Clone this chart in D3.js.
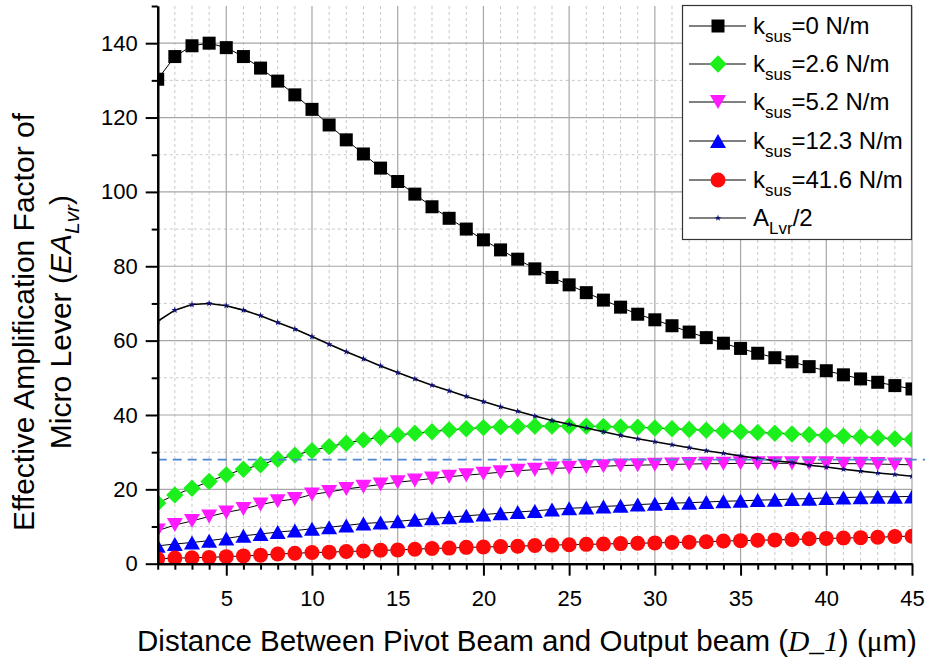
<!DOCTYPE html>
<html>
<head>
<meta charset="utf-8">
<script src="https://cdnjs.cloudflare.com/ajax/libs/d3/7.8.5/d3.min.js"></script>
<style>
  body { margin: 0; background: #fff; }
  svg { display: block; font-family: Arial, "Liberation Sans", sans-serif; }
</style>
</head>
<body>
<svg id="chart" width="929" height="662"></svg>
<script>
// distance between pivot beam and output beam (um)
var distance = [1,2,3,4,5,6,7,8,9,10,11,12,13,14,15,16,17,18,19,20,21,22,23,24,25,26,27,28,29,30,31,32,33,34,35,36,37,38,39,40,41,42,43,44,45];

// effective amplification factor, one array per k_sus
var ksus0 = [130.3,136.4,139.3,140.0,138.8,136.4,133.3,129.8,126.1,122.2,118.0,114.0,110.2,106.4,102.8,99.4,96.0,92.9,90.0,87.1,84.4,81.9,79.3,77.0,75.0,72.9,70.9,69.0,67.1,65.6,64.0,62.3,60.8,59.3,57.9,56.6,55.4,54.3,53.0,51.9,50.8,49.7,48.8,47.9,47.0];
var ksus26 = [16.3,18.5,20.3,22.1,23.9,25.4,26.6,28.1,29.2,30.4,31.5,32.4,33.3,34.0,34.6,35.1,35.5,36.0,36.3,36.6,36.8,36.9,37.0,37.0,37.0,37.0,36.9,36.8,36.7,36.5,36.3,36.1,35.9,35.7,35.5,35.3,35.1,34.9,34.7,34.5,34.3,34.1,33.9,33.6,33.4];
var ksus52 = [8.9,10.4,11.5,12.7,13.8,14.7,15.9,16.8,17.4,18.6,19.3,20.1,20.7,21.3,21.9,22.4,22.9,23.4,23.8,24.2,24.6,25.0,25.3,25.6,25.8,26.0,26.2,26.4,26.5,26.6,26.7,26.8,26.9,26.9,27.0,27.0,27.0,27.0,27.0,27.0,26.9,26.9,26.8,26.7,26.6];
var ksus123 = [4.8,5.3,5.7,6.2,6.8,7.5,8.0,8.5,8.9,9.4,9.8,10.3,10.8,11.1,11.4,11.8,12.2,12.5,12.9,13.2,13.6,13.9,14.2,14.6,14.9,15.1,15.4,15.6,15.9,16.1,16.3,16.4,16.6,16.8,16.9,17.1,17.2,17.4,17.5,17.7,17.8,17.9,18.0,18.0,18.1];
var ksus416 = [1.3,1.5,1.6,1.7,1.9,2.1,2.3,2.6,2.8,3.0,3.1,3.3,3.4,3.6,3.7,3.9,4.1,4.2,4.4,4.5,4.6,4.7,4.9,5.0,5.1,5.2,5.3,5.4,5.5,5.6,5.7,5.8,5.9,6.1,6.2,6.3,6.4,6.5,6.7,6.8,6.9,7.0,7.1,7.3,7.4];
var aLvrHalf = [65.2,68.2,69.7,70.0,69.4,68.2,66.7,64.9,63.1,61.1,59.0,57.0,55.1,53.2,51.4,49.7,48.0,46.5,45.0,43.6,42.2,41.0,39.7,38.5,37.5,36.5,35.5,34.5,33.6,32.8,32.0,31.2,30.4,29.7,29.0,28.3,27.7,27.2,26.5,26.0,25.4,24.9,24.4,24.0,23.5];
var refLevel = 28;

var xTicks = [5,10,15,20,25,30,35,40,45];
var xMinor = [1,2,3,4,6,7,8,9,11,12,13,14,16,17,18,19,21,22,23,24,26,27,28,29,31,32,33,34,36,37,38,39,41,42,43,44];
var yTicks = [0,20,40,60,80,100,120,140];
var yMinor = [10,30,50,70,90,110,130,150];

var svg = d3.select("#chart");
var L = 157.7, R = 912, T = 6, B = 563.7;

var x = d3.scaleLinear().domain([1, 45]).range([L, R]);
var y = d3.scaleLinear().domain([0, 150]).range([B, T]);

// grid
var grid = svg.append("g");
grid.selectAll(".vminor").data(xMinor.filter(function(d){ return d > 1; })).enter().append("line")
    .attr("x1", function(d){ return x(d); }).attr("x2", function(d){ return x(d); })
    .attr("y1", T).attr("y2", B)
    .attr("stroke", "#c8c8c8").attr("stroke-dasharray", "3,3");
grid.selectAll(".hminor").data(yMinor.filter(function(d){ return d < 150; })).enter().append("line")
    .attr("x1", L).attr("x2", R)
    .attr("y1", function(d){ return y(d); }).attr("y2", function(d){ return y(d); })
    .attr("stroke", "#c8c8c8").attr("stroke-dasharray", "3,3");
grid.selectAll(".vmajor").data(xTicks).enter().append("line")
    .attr("x1", function(d){ return x(d); }).attr("x2", function(d){ return x(d); })
    .attr("y1", T).attr("y2", B)
    .attr("stroke", "#a6a6a6").attr("stroke-width", 1.2);
grid.selectAll(".hmajor").data(yTicks.filter(function(d){ return d > 0; })).enter().append("line")
    .attr("x1", L).attr("x2", R)
    .attr("y1", function(d){ return y(d); }).attr("y2", function(d){ return y(d); })
    .attr("stroke", "#a6a6a6").attr("stroke-width", 1.2);

// markers
function square(g, c) { g.append("rect").attr("x", -6.5).attr("y", -6.5).attr("width", 13).attr("height", 13).attr("fill", c); }
function diamond(g, c) { g.append("path").attr("d", "M0,-8.7L8.7,0L0,8.7L-8.7,0Z").attr("fill", c); }
function triDown(g, c) { g.append("path").attr("d", "M-8,-7L8,-7L0,7Z").attr("fill", c); }
function triUp(g, c) { g.append("path").attr("d", "M0,-7L8,7L-8,7Z").attr("fill", c); }
function dot(g, c) { g.append("circle").attr("r", 7.5).attr("fill", c); }
function star(g, c) { g.append("path").attr("d", d3.symbol(d3.symbolStar, 14)()).attr("fill", c); }

var series = [
  { name: "0 N/m", values: ksus0, color: "#000000", mark: square },
  { name: "2.6 N/m", values: ksus26, color: "#1cf01c", mark: diamond },
  { name: "5.2 N/m", values: ksus52, color: "#ff1aff", mark: triDown },
  { name: "12.3 N/m", values: ksus123, color: "#0000ff", mark: triUp },
  { name: "41.6 N/m", values: ksus416, color: "#ff0a0a", mark: dot },
  { name: "half", values: aLvrHalf, color: "#10107a", mark: star }
];

svg.append("clipPath").attr("id", "plotClip").append("rect")
    .attr("x", L).attr("y", T).attr("width", R - L).attr("height", B - T);

var plot = svg.append("g").attr("clip-path", "url(#plotClip)");
var line = d3.line()
    .x(function(d){ return x(d[0]); })
    .y(function(d){ return y(d[1]); });

series.forEach(function(s) {
  var pts = distance.map(function(d, i){ return [d, s.values[i]]; });
  var g = plot.append("g");
  g.append("path").attr("d", line(pts)).attr("fill", "none")
      .attr("stroke", "#000").attr("stroke-width", s.name == "half" ? 1.6 : 1);
  pts.forEach(function(p) {
    var m = g.append("g").attr("transform", "translate(" + x(p[0]) + "," + y(p[1]) + ")");
    s.mark(m, s.color);
  });
});

// reference level
svg.append("line")
    .attr("x1", L).attr("x2", 925)
    .attr("y1", y(refLevel)).attr("y2", y(refLevel))
    .attr("stroke", "#4f86d2").attr("stroke-width", 1.6).attr("stroke-dasharray", "9,6");

// axes
svg.append("g").attr("transform", "translate(0," + B + ")")
    .call(d3.axisBottom(x).tickValues(xTicks).tickSize(12).tickSizeOuter(0).tickPadding(15));
svg.append("g").attr("transform", "translate(0," + B + ")")
    .call(d3.axisBottom(x).tickValues(xMinor).tickSize(6).tickSizeOuter(0).tickFormat(""));
svg.append("g").attr("transform", "translate(" + L + ",0)")
    .call(d3.axisLeft(y).tickValues(yTicks).tickSize(12).tickSizeOuter(0).tickPadding(8));
svg.append("g").attr("transform", "translate(" + L + ",0)")
    .call(d3.axisLeft(y).tickValues(yMinor).tickSize(6).tickSizeOuter(0).tickFormat(""));

svg.selectAll(".domain").attr("stroke", "#000").attr("stroke-width", 2.2);
svg.selectAll(".tick line").attr("stroke", "#000").attr("stroke-width", 2);
svg.selectAll(".tick text").attr("fill", "#000")
    .style("font-family", "Arial, 'Liberation Sans', sans-serif").style("font-size", "22px");

// axis titles
var xt = svg.append("text").attr("x", 527).attr("y", 651).attr("text-anchor", "middle")
    .style("font-size", "29.5px").attr("fill", "#000");
xt.append("tspan").text("Distance Between Pivot Beam and Output beam (");
xt.append("tspan").text("D_1").style("font-family", "'Liberation Serif', 'Times New Roman', serif").style("font-style", "italic");
xt.append("tspan").text(") (");
xt.append("tspan").text("\u03bc").style("font-family", "'Liberation Serif', 'Times New Roman', serif");
xt.append("tspan").text("m)");

var yt = svg.append("g").attr("transform", "translate(0,322) rotate(-90)");
yt.append("text").attr("x", 0).attr("y", 34).attr("text-anchor", "middle")
    .style("font-size", "30px").text("Effective Amplification Factor of");
var yt2 = yt.append("text").attr("x", 0).attr("y", 71).attr("text-anchor", "middle")
    .style("font-size", "30px");
yt2.append("tspan").text("Micro Lever (");
yt2.append("tspan").text("EA").style("font-style", "italic");
yt2.append("tspan").text("Lvr").style("font-style", "italic").style("font-size", "21px").attr("dy", 8);
yt2.append("tspan").text(")").attr("dy", -8);

// legend
var lg = svg.append("g");
lg.append("rect").attr("x", 682.5).attr("y", 5.5).attr("width", 229).attr("height", 234)
    .attr("fill", "#fff").attr("stroke", "#333").attr("stroke-width", 1.2);
var rowY = [26, 64, 102, 141, 180, 218];
series.forEach(function(s, i) {
  var yy = rowY[i];
  lg.append("line").attr("x1", 689).attr("x2", 746).attr("y1", yy).attr("y2", yy)
      .attr("stroke", "#000").attr("stroke-width", 1);
  var m = lg.append("g").attr("transform", "translate(718," + yy + ")");
  s.mark(m, s.color);
  var t = lg.append("text").attr("x", 753).attr("y", yy + 8).style("font-size", "24px").attr("fill", "#000");
  if (s.name == "half") {
    t.append("tspan").text("A");
    t.append("tspan").text("Lvr").style("font-size", "17px").attr("dy", 8);
    t.append("tspan").text("/2").attr("dy", -8);
  } else {
    t.append("tspan").text("k");
    t.append("tspan").text("sus").style("font-size", "17px").attr("dy", 8);
    t.append("tspan").text("=" + s.name).attr("dy", -8);
  }
});
</script>
</body>
</html>
